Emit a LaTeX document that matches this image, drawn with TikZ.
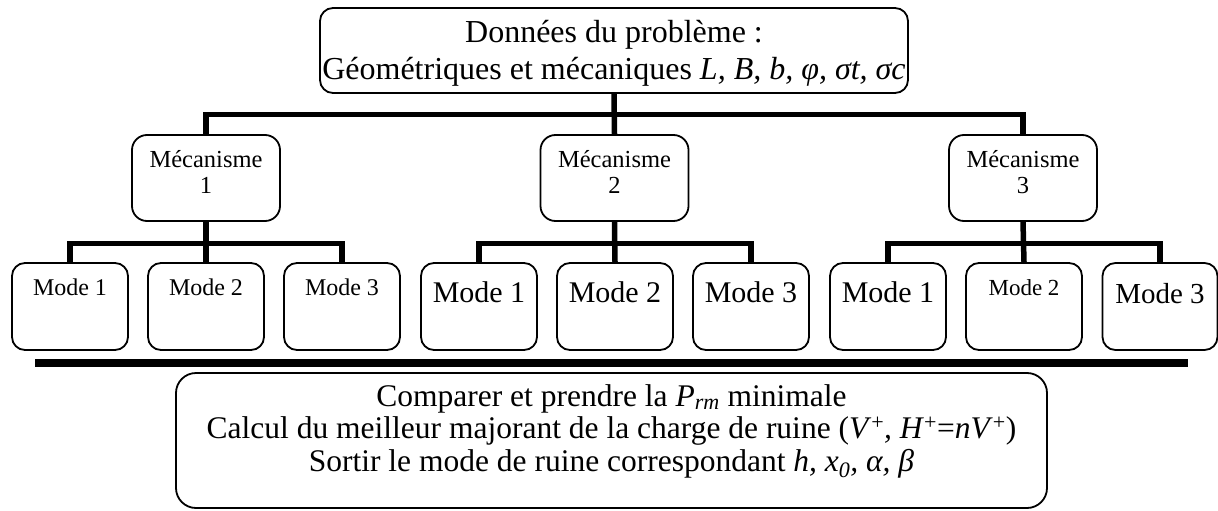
\documentclass[tikz,border=0pt]{standalone}
\usepackage{fontspec}
\setmainfont{Liberation Serif}
\newcommand\inbox[4]{\parbox[c][#2][t]{#1}{\lineskiplimit=-50pt\centering\rule{0pt}{#3}#4\par}}
\begin{document}
\begin{tikzpicture}[x=1pt,y=-1pt,
  frame/.style={draw, line width=1.8pt, inner sep=0pt, fill=white},
  topbox/.style={frame, rounded corners=13pt, font=\fontsize{32}{37}\selectfont},
  mechbox/.style={frame, rounded corners=15pt, font=\fontsize{24.5}{26}\selectfont},
  modebox/.style={frame, rounded corners=13pt},
  bottombox/.style={frame, rounded corners=20pt, font=\fontsize{31.5}{32.5}\selectfont},
  conn/.style={line width=5.5pt, line join=miter, line cap=butt},
  smallf/.style={font=\fontsize{24}{26}\selectfont},
  bigf/.style={font=\fontsize{30}{32}\selectfont}]
\useasboundingbox (0,0) rectangle (1218,511);
% top box
\node[topbox] (top) at (614,50.5) {\inbox{588pt}{85pt}{35pt}{Données du problème :\\Géométriques et mécaniques \textit{L, B, b, φ, σt, σc}}};
% mechanism boxes
\node[mechbox] (m1) at (206,178) {\inbox{148pt}{86pt}{32pt}{Mécanisme\\1}};
\node[mechbox] (m2) at (614.5,178) {\inbox{148pt}{86pt}{32pt}{Mécanisme\\2}};
\node[mechbox] (m3) at (1023,178) {\inbox{148pt}{86pt}{32pt}{Mécanisme\\3}};
% mode boxes, group 1
\node[modebox,smallf] (a1) at (70,306.5) {\inbox{116pt}{87pt}{32pt}{Mode 1}};
\node[modebox,smallf] (a2) at (206,306.5) {\inbox{116pt}{87pt}{32pt}{Mode 2}};
\node[modebox,smallf] (a3) at (342,306.5) {\inbox{116pt}{87pt}{32pt}{Mode 3}};
% group 2
\node[modebox,bigf] (b1) at (479,306.5) {\inbox{116pt}{87pt}{39pt}{Mode 1}};
\node[modebox,bigf] (b2) at (615,306.5) {\inbox{116pt}{87pt}{39pt}{Mode 2}};
\node[modebox,bigf] (b3) at (751,306.5) {\inbox{116pt}{87pt}{39pt}{Mode 3}};
% group 3
\node[modebox,bigf] (c1) at (888,306.5) {\inbox{116pt}{87pt}{39pt}{Mode 1}};
\node[modebox,font=\fontsize{23}{25}\selectfont] (c2) at (1024,306.5) {\inbox{116pt}{87pt}{32pt}{Mode 2}};
\node[modebox,font=\fontsize{29}{31}\selectfont] (c3) at (1160,306.5) {\inbox{115pt}{87pt}{40pt}{Mode 3}};
% bottom box
\node[bottombox] (res) at (611.5,440.5) {\inbox{871pt}{135pt}{33pt}{Comparer et prendre la \textit{P}\textsubscript{\textit{rm}} minimale\\Calcul du meilleur majorant de la charge de ruine (\textit{V}\textsuperscript{+}\textit{, H}\textsuperscript{+}=\textit{nV}\textsuperscript{+})\\Sortir le mode de ruine correspondant \textit{h, x}\textsubscript{\textit{0}}\textit{, α, β}}};
% connectors
\coordinate (barA) at (0,114.5);
\coordinate (barB) at (0,243.5);
\draw[conn] (top.south) -- (m2.north);
\draw[conn] (m1.north) -- (m1.north |- barA) -- (m3.north |- barA) -- (m3.north);
\draw[conn] (m1.south) -- (a2.north);
\draw[conn] (a1.north) -- (a1.north |- barB) -- (a3.north |- barB) -- (a3.north);
\draw[conn] (m2.south) -- (b2.north);
\draw[conn] (b1.north) -- (b1.north |- barB) -- (b3.north |- barB) -- (b3.north);
\draw[conn] (m3.south) -- (c2.north);
\draw[conn] (c1.north) -- (c1.north |- barB) -- (c3.north |- barB) -- (c3.north);
% separator bar
\coordinate (sepL) at (35,363);
\coordinate (sepR) at (1188,363);
\draw[line width=8pt] (sepL) -- (sepR);
\end{tikzpicture}
\end{document}
